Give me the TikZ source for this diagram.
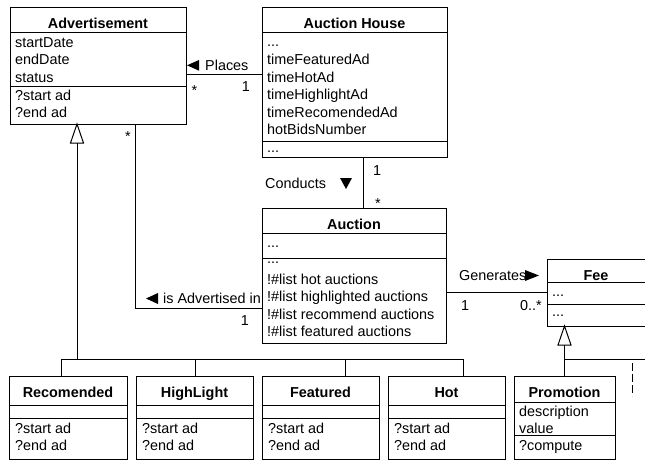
\documentclass[tikz,border=0pt]{standalone}
\usepackage{fontspec}
\setmainfont{Liberation Sans}
\newcommand\myfs{\fontsize{14.4}{17.5}\selectfont}
\begin{document}
\begin{tikzpicture}[x=1pt,y=-1pt,
  cls/.style={draw, line width=1pt, anchor=north west, inner sep=0pt, outer sep=0pt},
  txt/.style={anchor=base west, inner sep=0pt, font=\myfs},
  ttl/.style={anchor=base, inner sep=0pt, font=\myfs\bfseries},
  mul/.style={anchor=base, inner sep=0pt, font=\myfs},
  ln/.style={line width=1pt},
  tri/.style={fill=black, draw=none},
  gen/.style={draw, line width=1pt, fill=white}]
\useasboundingbox (0,0) rectangle (645,461);
\clip (0,0) rectangle (645,461);

% ---------- Advertisement
\node[cls, minimum width=176pt, minimum height=117pt] (adv) at (10,7) {};
\draw[ln] (10,32) -- (186,32);
\draw[ln] (10,86) -- (186,86);
\node[ttl] (advt) at (98,28) {Advertisement};
\node[txt] (adva1) at (15,47) {startDate};
\node[txt] (adva2) at (15,64.5) {endDate};
\node[txt] (adva3) at (15,82) {status};
\node[txt] (advo1) at (15,100) {?start ad};
\node[txt] (advo2) at (15,117.5) {?end ad};

% ---------- Auction House
\node[cls, minimum width=185pt, minimum height=150pt] (ah) at (262,7) {};
\draw[ln] (262,32) -- (447,32);
\draw[ln] (262,141) -- (447,141);
\node[ttl] (aht) at (354.5,28) {Auction House};
\node[txt] (aha0) at (267,46) {...};
\node[txt] (aha1) at (267,64.5) {timeFeaturedAd};
\node[txt] (aha2) at (267,82) {timeHotAd};
\node[txt] (aha3) at (267,99.5) {timeHighlightAd};
\node[txt] (aha4) at (267,117) {timeRecomendedAd};
\node[txt] (aha5) at (267,134.5) {hotBidsNumber};
\node[txt] (aho0) at (267,152) {...};

% ---------- Auction
\node[cls, minimum width=184pt, minimum height=135pt] (auc) at (262,208) {};
\draw[ln] (262,233) -- (446,233);
\draw[ln] (262,258) -- (446,258);
\node[ttl] (auct) at (354,229) {Auction};
\node[txt] (auca0) at (267,247) {...};
\node[txt] (auco0) at (267,263.5) {...};
\node[txt] (auco1) at (267,284) {!\#list hot auctions};
\node[txt] (auco2) at (267,301.5) {!\#list highlighted auctions};
\node[txt] (auco3) at (267,319) {!\#list recommend auctions};
\node[txt] (auco4) at (267,336.5) {!\#list featured auctions};

% ---------- Fee
\node[cls, minimum width=133pt, minimum height=67pt] (fee) at (547,259) {};
\draw[ln] (547,282) -- (680,282);
\draw[ln] (547,304) -- (680,304);
\node[ttl] (feet) at (596,280) {Fee};
\node[txt] (feea0) at (552,296) {...};
\node[txt] (feeo0) at (552,316) {...};

% ---------- Promotion
\node[cls, minimum width=101pt, minimum height=83pt] (promo) at (514,376) {};
\draw[ln] (514,402) -- (615,402);
\draw[ln] (514,435) -- (615,435);
\node[ttl] (promot) at (564.5,397) {Promotion};
\node[txt] (promoa1) at (519,416) {description};
\node[txt] (promoa2) at (519,433) {value};
\node[txt] (promoo1) at (519,450) {?compute};

% ---------- Subclasses
\foreach \bname/\lx/\rx/\btitle in {rec/9/127/Recomended, hl/136/253/HighLight, feat/262/379/Featured, hot/388/505/Hot}{
  \pgfmathsetmacro\bwid{\rx-\lx}
  \pgfmathsetmacro\bcen{(\rx+\lx)/2}
  \node[cls, minimum width=\bwid pt, minimum height=83pt] (\bname) at (\lx,376) {};
  \draw[ln] (\lx,405) -- (\rx,405);
  \draw[ln] (\lx,418) -- (\rx,418);
  \node[ttl] (\bname-t) at (\bcen,397) {\btitle};
  \node[txt] (\bname-o1) at (\lx+6,433) {?start ad};
  \node[txt] (\bname-o2) at (\lx+6,450.5) {?end ad};
}

% ---------- coordinates
\coordinate (py) at (0,74);
\coordinate (cx) at (363,0);
\coordinate (ax) at (135,0);
\coordinate (ay) at (0,308);
\coordinate (gy) at (0,292);
\coordinate (g1) at (77,359);
\coordinate (d1) at (61,359);
\coordinate (d2) at (195,359);
\coordinate (d3) at (345,359);
\coordinate (d4) at (463,359);
\coordinate (f1) at (564.5,359);
\coordinate (fr) at (650,359);
\coordinate (ds) at (632,363);
\coordinate (de) at (632,396);

% ---------- Places
\draw[ln] (adv.east |- py) -- (ah.west |- py);
\fill[tri] (187,65.3) -- (199,60) -- (199,70.7) -- cycle;
\node[txt] (placesl) at (205,70.5) {Places};
\node[mul] (placesm1) at (194.5,95) {*};
\node[mul] (placesm2) at (246,91) {1};

% ---------- Conducts
\draw[ln] (ah.south -| cx) -- (auc.north -| cx);
\fill[tri] (346,189) -- (340,178) -- (352,178) -- cycle;
\node[txt] (condl) at (265,188) {Conducts};
\node[mul] (condm1) at (377,175) {1};
\node[mul] (condm2) at (378,208) {*};

% ---------- is Advertised in
\draw[ln] (adv.south -| ax) |- (auc.west |- ay);
\fill[tri] (146,298.5) -- (158,293) -- (158,304) -- cycle;
\node[txt] (advinl) at (163,303) {is Advertised in};
\node[mul] (advinm1) at (128,141.3) {*};
\node[mul] (advinm2) at (245,325) {1};

% ---------- Generates
\draw[ln] (auc.east |- gy) -- (fee.west |- gy);
\fill[tri] (539,275.5) -- (525,270) -- (525,281) -- cycle;
\node[txt] (genl) at (459,280) {Generates};
\node[mul] (genm1) at (465,310) {1};
\node[txt] (genm2) at (520,310) {0..*};

% ---------- Generalization to Advertisement
\draw[gen] (adv.south -| g1) -- ++(-6.5,19) -- ++(13,0) -- cycle;
\draw[ln] (adv.south -| g1) ++(0,19) -- (g1);
\draw[ln] (d1) -- (d4);
\draw[ln] (d1) -- (rec.north -| d1);
\draw[ln] (d2) -- (hl.north -| d2);
\draw[ln] (d3) -- (feat.north -| d3);
\draw[ln] (d4) -- (hot.north -| d4);

% ---------- Generalization to Fee
\draw[gen] (fee.south -| f1) -- ++(-6.5,19) -- ++(13,0) -- cycle;
\draw[ln] (fee.south -| f1) ++(0,19) -- (promo.north -| f1);
\draw[ln] (f1) -- (fr);
\draw[ln, dash pattern=on 8pt off 3pt] (ds) -- (de);
\end{tikzpicture}
\end{document}
